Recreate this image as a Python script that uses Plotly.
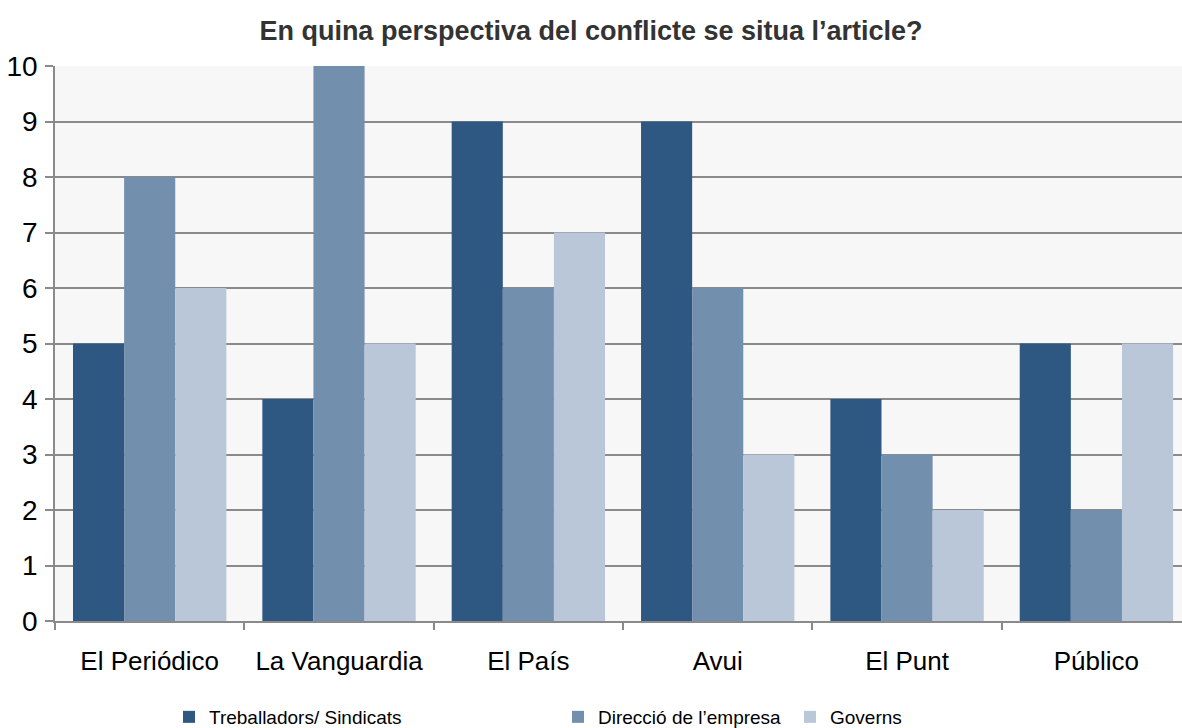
import plotly.graph_objects as go

categories = ["El Periódico", "La Vanguardia", "El País", "Avui", "El Punt", "Público"]
series_names = ["Treballadors/ Sindicats", "Direcció de l’empresa", "Governs"]
treballadors = [5, 4, 9, 9, 4, 5]
direccio = [8, 10, 6, 6, 3, 2]
governs = [6, 5, 7, 3, 2, 5]
y_ticks = list(range(0, 11))
title_text = "En quina perspectiva del conflicte se situa l’article?"

colors = ["#2E5782", "#738FAE", "#B9C7D9"]
values = [treballadors, direccio, governs]
legend_ids = ["legend", "legend2", "legend3"]

W, H = 1182, 728
ml, mt, mb = 55, 66, 107
plot_w = W - ml
plot_h = H - mt - mb

fig = go.Figure()
for name, vals, col, lg in zip(series_names, values, colors, legend_ids):
    fig.add_trace(go.Bar(x=categories, y=vals, name=name, legend=lg,
                         marker=dict(color=col, line=dict(width=0))))

legend_font = dict(size=19, color="black", family="Liberation Sans, Arial")
square_px = [187, 576, 808]
leg_y = (H - mb - 717) / plot_h
legends = {}
for lg, sx in zip(legend_ids, square_px):
    legends[lg] = dict(orientation="h", x=(sx - 18 - ml) / plot_w, xanchor="left",
                       y=leg_y, yanchor="middle", font=legend_font,
                       bgcolor="rgba(0,0,0,0)", borderwidth=0)

fig.update_layout(
    width=W, height=H,
    margin=dict(l=ml, r=0, t=mt, b=mb, autoexpand=False),
    paper_bgcolor="white",
    plot_bgcolor="#F7F7F7",
    barmode="group", bargap=0.19, bargroupgap=0,
    font=dict(family="Liberation Sans, Arial", color="black"),
    title=dict(text="<b>" + title_text + "</b>", x=(591) / W, xanchor="center",
               y=1 - 31 / H, yanchor="middle", yref="container",
               font=dict(size=27, color="#333333")),
    showlegend=True,
    **legends,
)
fig.update_xaxes(
    range=[-0.5, 5.452], showline=True, linecolor="#8a8a8a", linewidth=1.5,
    ticks="outside", tickson="boundaries", ticklen=7, tickcolor="#8a8a8a", tickwidth=1.5,
    tickfont=dict(size=26, color="black"), showgrid=False, ticklabelstandoff=16,
)
fig.update_yaxes(
    range=[0, 10], tickvals=y_ticks, showline=True, linecolor="#8a8a8a", linewidth=1.5,
    ticks="outside", ticklen=8, tickcolor="#8a8a8a", tickwidth=1.5,
    showgrid=True, gridcolor="#8a8a8a", gridwidth=1.5, zeroline=False,
    tickfont=dict(size=28, color="black"), ticklabelstandoff=2,
)

fig.write_html("out.html", config={"displayModeBar": False},
               post_script="document.body.style.margin='0';document.body.style.overflow='hidden';")
